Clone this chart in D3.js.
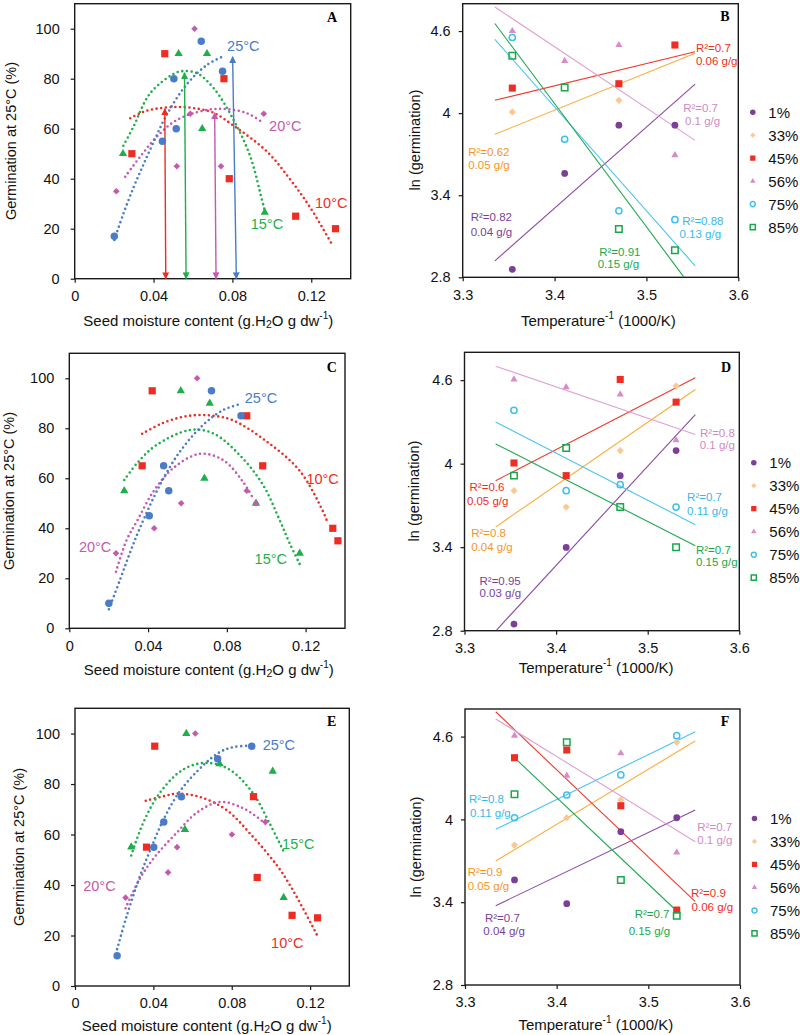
<!DOCTYPE html>
<html><head><meta charset="utf-8">
<script src="https://cdn.jsdelivr.net/npm/d3@7"></script>
<style>body{margin:0;background:#fff}</style>
</head><body><svg id="c" width="800" height="1035" xmlns="http://www.w3.org/2000/svg"></svg>
<script>
// ---------- DATA ----------
const moistureTicks = [0, 0.04, 0.08, 0.12];
const germTicks = [0, 20, 40, 60, 80, 100];
const invTempTicks = [3.3, 3.4, 3.5, 3.6];
const lnTicks = [2.8, 3.4, 4, 4.6];
const tempLabels = ['10°C', '15°C', '20°C', '25°C'];
const rhLabels = ['1%', '33%', '45%', '56%', '75%', '85%'];
const invTemps = [3.354, 3.411, 3.470, 3.531];

// Panel A  (seed moisture g/g, germination %)
const A_10 = [[0.0457,90],[0.0757,80],[0.0290,50],[0.0784,40],[0.1121,25],[0.1323,20]];
const A_15 = [[0.0527,90],[0.0671,90],[0.0647,60],[0.0245,50],[0.0964,26.5]];
const A_20 = [[0.0608,100],[0.0586,66],[0.0959,66],[0.0518,45],[0.0742,45],[0.0211,35]];
const A_25 = [[0.0642,95],[0.0750,83],[0.0503,80],[0.0515,60],[0.0445,55],[0.0201,17]];
const fitA_10 = [[0.0282,64.2],[0.035,66.8],[0.043,68.2],[0.0535,68.7],[0.063,67.9],[0.0704,66.4],[0.0806,61.2],[0.0976,50.8],[0.1094,39.6],[0.1196,28.3],[0.1306,13.6]];
const fitA_15 = [[0.0247,53.2],[0.0298,60.8],[0.0383,74.2],[0.0501,81.9],[0.0544,83],[0.062,82.2],[0.0705,76.2],[0.0806,63.5],[0.0891,48.8],[0.095,31.5],[0.0967,26.4]];
const fitA_20 = [[0.0256,40.8],[0.0332,48.8],[0.0417,56.8],[0.0518,63.5],[0.0671,67.5],[0.0773,67.8],[0.0874,66.2],[0.0959,62.2]];
const fitA_25 = [[0.0201,15.5],[0.0247,26],[0.0298,36.4],[0.0345,45],[0.04,54.6],[0.0467,65.6],[0.0569,77.8],[0.0671,85.5],[0.0755,89]];
// threshold arrows: [bottom x, top x, top y]
const arrowsA = [[0.0462,0.0457,68],[0.0565,0.0557,82.4],[0.0717,0.0710,66.4],[0.0820,0.0801,88.8]];

// Panel C
const C_10 = [[0.0421,95],[0.0901,85],[0.0370,65],[0.0982,65],[0.1338,40],[0.1364,35]];
const C_15 = [[0.0566,95],[0.0713,90],[0.0686,60],[0.0279,55],[0.0948,50],[0.117,30]];
const C_20 = [[0.0649,100],[0.0901,55],[0.0568,50],[0.0948,50],[0.0431,40],[0.0237,30]];
const C_25 = [[0.0722,95],[0.0872,85],[0.0479,65],[0.0505,55],[0.0406,45],[0.0201,10]];
const fitC_10 = [[0.037,77.8],[0.046,81.6],[0.0555,84.2],[0.0646,85.3],[0.0735,85],[0.0831,83.2],[0.1001,74.8],[0.117,63],[0.1288,46.8],[0.131,42.6]];
const fitC_15 = [[0.0279,59.3],[0.035,66.6],[0.0443,73.3],[0.0612,79.3],[0.073,78],[0.0865,69.3],[0.0984,57.3],[0.1068,43.3],[0.1119,34],[0.1175,24.9]];
const fitC_20 = [[0.0237,22.6],[0.0291,35.3],[0.0342,42.6],[0.0426,54.6],[0.0527,64],[0.0663,69.8],[0.0781,67.3],[0.0882,58.6],[0.0933,52]];
const fitC_25 = [[0.0201,7.6],[0.0257,19.3],[0.0307,30],[0.0358,40],[0.046,57.3],[0.0561,70.6],[0.0679,81.3],[0.0781,87.3],[0.0874,89.8]];

// Panel E
const E_10 = [[0.0407,95],[0.0911,75],[0.0365,55],[0.093,43],[0.1108,28],[0.1238,27]];
const E_15 = [[0.0568,100],[0.0738,88],[0.1009,85],[0.0561,62],[0.0287,55],[0.1065,35]];
const E_20 = [[0.0614,100],[0.0972,65],[0.0801,60],[0.0521,55],[0.0475,45],[0.0258,35]];
const E_25 = [[0.0902,95],[0.0728,90],[0.0543,75],[0.0453,65],[0.0402,55],[0.0215,12]];
const fitE_10 = [[0.0361,73.4],[0.0449,75.1],[0.0518,76.2],[0.0636,74.9],[0.0772,69.8],[0.0907,59.2],[0.1035,47.3],[0.1111,38.1],[0.1238,19.8]];
const fitE_15 = [[0.0287,51.7],[0.0348,64.6],[0.0433,76.5],[0.0551,85.7],[0.067,88.4],[0.0789,85.7],[0.0907,76.5],[0.0992,64.6],[0.1065,53.3]];
const fitE_20 = [[0.0258,30.8],[0.0297,37.4],[0.0348,44.7],[0.0416,52],[0.0518,60.6],[0.0619,68.5],[0.0738,72.9],[0.0856,70.5],[0.0958,65.2],[0.0989,63.2]];
const fitE_25 = [[0.0215,14.6],[0.0263,27.5],[0.0331,43.4],[0.0385,54],[0.0449,65.5],[0.0534,77],[0.0653,87.3],[0.0738,92.6],[0.0806,94.6],[0.0902,95.2]];

// Panels B, D, F : ln(germination) at each 1000/T, per relative humidity (null = no point)
const B_ln = [
  [2.858, 3.559, 3.912, 3.912],
  [4.009, null, 4.094, null],
  [4.183, null, 4.215, 4.498],
  [4.600, 4.382, 4.498, 3.693],
  [4.553, 3.809, 3.286, 3.221],
  [4.420, 4.188, 3.153, 2.998]];
const D_ln = [
  [2.848, 3.398, 3.914, 4.094],
  [3.806, 3.688, 4.094, 4.557],
  [4.005, 3.914, 4.605, 4.442],
  [4.605, 4.549, 4.497, 4.168],
  [4.383, 3.806, 3.849, 3.688],
  [3.914, 4.113, 3.688, 3.400]];
const F_ln = [
  [3.561, 3.389, 3.911, 4.012],
  [3.814, 4.012, 4.141, 4.559],
  [4.447, 4.503, 4.099, 3.343],
  [4.607, 4.317, 4.479, 3.761],
  [4.012, 4.177, 4.322, 4.607],
  [4.182, 4.559, 3.561, 3.302]];
// regression lines [x1,y1,x2,y2]
const B_fit = [[3.335,2.920,3.553,4.212],[3.335,3.845,3.553,4.437],[3.335,4.094,3.553,4.449],[3.335,4.776,3.553,3.801],[3.335,4.539,3.553,2.884],[3.335,4.655,3.541,2.8]];
const D_fit = [[3.335,2.805,3.552,4.353],[3.334,3.546,3.552,4.533],[3.334,3.878,3.552,4.617],[3.334,4.700,3.552,4.209],[3.334,4.300,3.552,3.561],[3.334,4.142,3.552,3.410]];
const F_fit = [[3.3335,3.375,3.5512,4.068],[3.3335,3.699,3.5512,4.568],[3.3335,4.780,3.5512,3.404],[3.3335,4.728,3.5512,3.838],[3.3335,3.928,3.5512,4.636],[3.354,4.447,3.529,3.349]];
const B_r2 = ['0.82','0.62','0.7','0.7','0.88','0.91'];
const D_r2 = ['0.95','0.8','0.6','0.8','0.7','0.7'];
const F_r2 = ['0.7','0.9','0.9','0.7','0.8','0.7'];
const B_mc = ['0.04','0.05','0.06','0.1','0.13','0.15'];
const D_mc = ['0.03','0.04','0.05','0.1','0.11','0.15'];
const F_mc = ['0.04','0.05','0.06','0.1','0.11','0.15'];

// ---------- STYLE / LAYOUT ----------
const FONT = '"Liberation Sans", Arial, Helvetica, sans-serif';
const germColors = ['#ed2d24', '#1eaf4b', '#c45aaf', '#4a7cc7'];
const germSym = ['square', 'triangle', 'diamond', 'circle'];
const rhMark = ['#7b3e99', '#fdc795', '#ee2e24', '#d98bc6', '#3ec0ee', '#18a84b'];
const rhLine = ['#8a4aa6', '#fbad3b', '#ee3a2c', '#dfa0d4', '#4cc3ee', '#20aa50'];
const rhText = ['#7b3e99', '#f7941d', '#ee2e24', '#d08ac2', '#3ab8ea', '#18a84b'];
const rhSym = ['circle', 'diamond', 'square', 'triangle', 'ocircle', 'osquare'];

const germPanels = [
  {id:'A', box:[74.7,3.7,350.7,278.7], pts:[A_10,A_15,A_20,A_25], fits:[fitA_10,fitA_15,fitA_20,fitA_25], arrows:arrowsA,
   lab:[[0.1219,30.2],[0.0893,21.9],[0.0986,61.1],[0.0773,93.2]], letter:[332,17], xt:[208.3,320], yt:[11,141]},
  {id:'C', box:[69.3,353.3,345,628.3], pts:[C_10,C_15,C_20,C_25], fits:[fitC_10,fitC_15,fitC_20,fitC_25],
   lab:[[0.1204,59.6],[0.0941,27.6],[0.0049,32.6],[0.0891,92.2]], letter:[331.7,367.7], xt:[208.8,669], yt:[9,491]},
  {id:'E', box:[75,708.3,349.3,986], pts:[E_10,E_15,E_20,E_25], fits:[fitE_10,fitE_15,fitE_20,fitE_25],
   lab:[[0.1001,16.9],[0.1057,56.2],[0.0042,39.6],[0.0958,95.4]], letter:[331.7,721.7], xt:[206.7,1025], yt:[19,847]}
];
const lnPanels = [
  {id:'B', box:[462.7,3.7,738.3,277.3], ln:B_ln, fit:B_fit, r2:B_r2, mc:B_mc,
   ann:[[3.3087,3.240,3.3087,3.131],[3.306,3.717,3.306,3.620],[3.5539,4.473,3.5539,4.396],[3.540,4.034,3.542,3.947],[3.539,3.209,3.536,3.119],[3.4486,2.986,3.4469,2.894]],
   letter:[725,16], xt:[598.3,320], yt:[415,140]},
  {id:'D', box:[464.5,352.3,739.3,630.7], ln:D_ln, fit:D_fit, r2:D_r2, mc:D_mc,
   ann:[[3.3164,3.158,3.3164,3.081],[3.3073,3.501,3.3073,3.398],[3.3055,3.830,3.3026,3.734],[3.5571,4.221,3.5568,4.137],[3.543,3.760,3.543,3.662],[3.5527,3.381,3.5527,3.292]],
   letter:[726,367.7], xt:[596.2,666.7], yt:[414,491]},
  {id:'F', box:[465,709,740,985], ln:F_ln, fit:F_fit, r2:F_r2, mc:F_mc,
   ann:[[3.3218,3.283,3.3200,3.191],[3.3029,3.617,3.3029,3.517],[3.5465,3.465,3.5472,3.363],[3.5534,3.947,3.5534,3.851],[3.3044,4.147,3.3055,4.044],[3.4851,3.314,3.4785,3.191]],
   letter:[725,721.7], xt:[595.8,1024], yt:[416,847]}
];

const svg = d3.select('#c');
const defs = svg.append('defs');

function drawSym(g, type, cx, cy, color, size) {
  let p;
  if (type === 'circle') p = g.append('path').attr('d', d3.symbol(d3.symbolCircle, size)()).attr('fill', color);
  else if (type === 'square') p = g.append('path').attr('d', d3.symbol(d3.symbolSquare, size)()).attr('fill', color);
  else if (type === 'triangle') p = g.append('path').attr('d', d3.symbol(d3.symbolTriangle, size)()).attr('fill', color);
  else if (type === 'diamond') p = g.append('path').attr('d', d3.symbol(d3.symbolSquare, size)()).attr('fill', color);
  else if (type === 'ocircle') p = g.append('path').attr('d', d3.symbol(d3.symbolCircle, size)()).attr('fill', 'none').attr('stroke', color).attr('stroke-width', 1.5);
  else if (type === 'osquare') p = g.append('path').attr('d', d3.symbol(d3.symbolSquare, size)()).attr('fill', 'none').attr('stroke', color).attr('stroke-width', 1.5);
  p.attr('transform', `translate(${cx},${cy})` + (type === 'diamond' ? ' rotate(45)' : ''));
}

function frameAndAxes(p, x, y, xt, yt, fmtX, fmtY, ypad) {
  const gx = svg.append('g').attr('transform', `translate(0,${p.box[3]})`)
    .call(d3.axisBottom(x).tickValues(xt).tickSize(4).tickPadding(8).tickFormat(fmtX));
  const gy = svg.append('g').attr('transform', `translate(${p.box[0]},0)`)
    .call(d3.axisLeft(y).tickValues(yt).tickSize(4).tickPadding(ypad).tickFormat(fmtY));
  [gx, gy].forEach(g => {
    g.select('.domain').remove();
    g.selectAll('line').attr('stroke', '#1a1a1a').attr('stroke-width', 1.2);
    g.selectAll('text').attr('font-size', 14.5).attr('font-family', FONT).attr('fill', '#111');
  });
  svg.append('rect').attr('x', p.box[0]).attr('y', p.box[1])
    .attr('width', p.box[2] - p.box[0]).attr('height', p.box[3] - p.box[1])
    .attr('fill', 'none').attr('stroke', '#1a1a1a').attr('stroke-width', 1.4);
  svg.append('text').attr('x', p.letter[0]).attr('y', p.letter[1]).attr('text-anchor', 'middle')
    .attr('dominant-baseline', 'central').attr('font-family', '"Liberation Serif", "Times New Roman", serif')
    .attr('font-weight', 'bold').attr('font-size', 14).text(p.id);
}

// ---------- Germination panels ----------
germColors.forEach((c, i) => {
  defs.append('marker').attr('id', 'arr' + i).attr('viewBox', '0 0 10 10').attr('refX', 9).attr('refY', 5)
    .attr('markerUnits', 'userSpaceOnUse').attr('markerWidth', 8).attr('markerHeight', 7)
    .attr('orient', 'auto-start-reverse')
    .append('path').attr('d', 'M0,0 L10,5 L0,10 z').attr('fill', c);
});

germPanels.forEach(p => {
  const x = d3.scaleLinear([0, 0.14], [p.box[0], p.box[2]]);
  const y = d3.scaleLinear([0, 110], [p.box[3], p.box[1]]);
  frameAndAxes(p, x, y, moistureTicks, germTicks, d => d === 0 ? '0' : d3.format('.2f')(d), d3.format('d'), 11);
  const g = svg.append('g');
  const line = d3.line().x(d => x(d[0])).y(d => y(d[1])).curve(d3.curveCatmullRom.alpha(0.5));
  p.fits.forEach((f, i) => {
    g.append('path').attr('d', line(f)).attr('fill', 'none').attr('stroke', germColors[i])
      .attr('stroke-width', 2.6).attr('stroke-linecap', 'round').attr('stroke-dasharray', '0 4.7');
  });
  if (p.arrows) p.arrows.forEach((a, i) => {
    g.append('line').attr('x1', x(a[0])).attr('y1', y(0)).attr('x2', x(a[1])).attr('y2', y(a[2]))
      .attr('stroke', germColors[i]).attr('stroke-width', 1.4)
      .attr('marker-start', `url(#arr${i})`).attr('marker-end', `url(#arr${i})`);
  });
  const sizes = {square: 52, triangle: 30, diamond: 22, circle: 44};
  p.pts.forEach((pts, i) => {
    pts.forEach(d => drawSym(g, germSym[i], x(d[0]), y(d[1]), germColors[i], sizes[germSym[i]]));
  });
  p.lab.forEach((l, i) => {
    svg.append('text').attr('x', x(l[0])).attr('y', y(l[1])).attr('dominant-baseline', 'central')
      .attr('font-family', FONT).attr('font-size', 14.5).attr('fill', germColors[i]).text(tempLabels[i]);
  });
  // axis titles
  const tx = svg.append('text').attr('x', p.xt[0]).attr('y', p.xt[1]).attr('text-anchor', 'middle')
    .attr('dominant-baseline', 'central').attr('font-family', FONT).attr('font-size', 15).attr('fill', '#111');
  tx.append('tspan').text('Seed moisture content (g.H');
  tx.append('tspan').attr('font-size', 10.5).attr('dy', 4).text('2');
  tx.append('tspan').attr('dy', -4).text('O g dw');
  tx.append('tspan').attr('font-size', 10).attr('dy', -5).text('-1');
  tx.append('tspan').attr('dy', 5).text(')');
  svg.append('text').attr('transform', `translate(${p.yt[0]},${p.yt[1]}) rotate(-90)`).attr('text-anchor', 'middle')
    .attr('dominant-baseline', 'central').attr('font-family', FONT).attr('font-size', 14.5).attr('fill', '#111')
    .text('Germination at 25°C (%)');
});

// ---------- ln(germination) panels ----------
lnPanels.forEach(p => {
  const x = d3.scaleLinear([3.3, 3.6], [p.box[0], p.box[2]]);
  const y = d3.scaleLinear([2.8, 4.8], [p.box[3], p.box[1]]);
  frameAndAxes(p, x, y, invTempTicks, lnTicks, d3.format('.1f'), d => d === 4 ? '4' : d3.format('.1f')(d), 8);
  const cid = 'clip' + p.id;
  defs.append('clipPath').attr('id', cid).append('rect').attr('x', p.box[0]).attr('y', p.box[1])
    .attr('width', p.box[2] - p.box[0]).attr('height', p.box[3] - p.box[1]);
  const g = svg.append('g').attr('clip-path', `url(#${cid})`);
  p.fit.forEach((f, i) => {
    g.append('line').attr('x1', x(f[0])).attr('y1', y(f[1])).attr('x2', x(f[2])).attr('y2', y(f[3]))
      .attr('stroke', rhLine[i]).attr('stroke-width', 1.1);
  });
  const sizes = {circle: 36, diamond: 26, square: 50, triangle: 22, ocircle: 30, osquare: 42};
  const gp = svg.append('g');
  p.ln.forEach((row, i) => {
    row.forEach((v, j) => { if (v !== null) drawSym(gp, rhSym[i], x(invTemps[j]), y(v), rhMark[i], sizes[rhSym[i]]); });
  });
  p.ann.forEach((a, i) => {
    const py1 = y(a[1]);
    const py2 = Math.max(y(a[3]), py1 + 12.6);
    svg.append('text').attr('x', x(a[0])).attr('y', py1).attr('dominant-baseline', 'central')
      .attr('font-family', FONT).attr('font-size', 11.5).attr('fill', rhText[i]).text('R²=' + p.r2[i]);
    svg.append('text').attr('x', x(a[2])).attr('y', py2).attr('dominant-baseline', 'central')
      .attr('font-family', FONT).attr('font-size', 11.5).attr('fill', rhText[i]).text(p.mc[i] + ' g/g');
  });
  // legend
  const lsz = {circle: 24, diamond: 14, square: 28, triangle: 13, ocircle: 20, osquare: 26};
  rhLabels.forEach((lab, i) => {
    const ly = y(4) - 1 + i * 23;
    drawSym(svg, rhSym[i], p.box[2] + 14.5, ly, rhMark[i], lsz[rhSym[i]]);
    svg.append('text').attr('x', p.box[2] + 30).attr('y', ly).attr('dominant-baseline', 'central')
      .attr('font-family', FONT).attr('font-size', 15).attr('fill', '#111').text(lab);
  });
  const tx = svg.append('text').attr('x', p.xt[0]).attr('y', p.xt[1]).attr('text-anchor', 'middle')
    .attr('dominant-baseline', 'central').attr('font-family', FONT).attr('font-size', 15).attr('fill', '#111');
  tx.append('tspan').text('Temperature');
  tx.append('tspan').attr('font-size', 10).attr('dy', -5).text('-1');
  tx.append('tspan').attr('dy', 5).text(' (1000/K)');
  svg.append('text').attr('transform', `translate(${p.yt[0]},${p.yt[1]}) rotate(-90)`).attr('text-anchor', 'middle')
    .attr('dominant-baseline', 'central').attr('font-family', FONT).attr('font-size', 14.5).attr('fill', '#111')
    .text('ln (germination)');
});
</script></body></html>
